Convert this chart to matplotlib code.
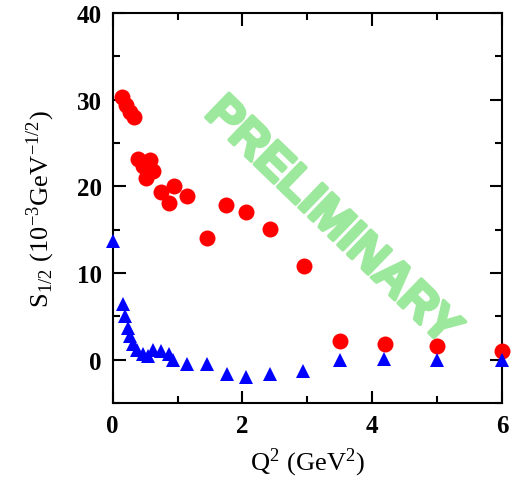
import matplotlib.pyplot as plt
import matplotlib.patheffects as pe
from matplotlib.ticker import MultipleLocator

plt.rcParams['font.family'] = ['Liberation Serif', 'DejaVu Serif']
plt.rcParams['mathtext.fontset'] = 'stix'

# red circles
q2_red = [0.15, 0.21, 0.27, 0.33, 0.39, 0.57, 0.47, 0.62, 0.52, 0.75, 0.94, 0.86,
          1.15, 1.45, 1.75, 2.05, 2.42, 2.95, 3.50, 4.19, 5.0, 6.0]
s_red = [30.3, 29.4, 28.6, 28.0, 23.2, 23.1, 22.3, 21.8, 21.0, 19.4, 20.0, 18.1,
         18.85, 14.0, 17.8, 17.1, 15.1, 10.8, 2.1, 1.75, 1.55, 0.95]

# blue triangles
q2_blue = [0.0, 0.16, 0.19, 0.24, 0.27, 0.32, 0.38, 0.47, 0.55, 0.62, 0.74, 0.86,
           0.93, 1.15, 1.45, 1.76, 2.05, 2.42, 2.94, 3.50, 4.18, 5.0, 6.0]
s_blue = [13.7, 6.4, 5.0, 3.7, 2.7, 1.85, 1.1, 0.6, 0.4, 1.15, 0.95, 0.6,
          0.0, -0.45, -0.45, -1.7, -2.0, -1.7, -1.35, -0.1, 0.1, 0.0, -0.1]

fig = plt.figure(figsize=(5.18, 4.89), dpi=100)
ax = fig.add_axes([0.2176, 0.174, 0.7514, 0.797])

ax.plot(q2_red, s_red, 'o', color='#ff0000', markersize=11.5, markeredgewidth=0,
        clip_on=False, zorder=3)
ax.plot(q2_blue, s_blue, '^', color='#0000ff', markersize=10.5, markeredgewidth=0,
        clip_on=False, zorder=3)

ax.text(0.563, 0.465, 'PRELIMINARY', transform=ax.transAxes, rotation=-44,
        rotation_mode='anchor', ha='center', va='center', fontsize=35,
        fontweight='bold', family=['Liberation Sans', 'DejaVu Sans'], color='#9ce89c',
        zorder=2, path_effects=[pe.withStroke(linewidth=2.5, foreground='#9ce89c')])

ax.set_xlim(0, 6)
ax.set_ylim(-5, 40)
ax.xaxis.set_major_locator(MultipleLocator(2))
ax.xaxis.set_minor_locator(MultipleLocator(1))
ax.yaxis.set_major_locator(MultipleLocator(10))
ax.yaxis.set_minor_locator(MultipleLocator(5))
ax.tick_params(which='both', direction='in', top=True, right=True, width=1.5,
               labelsize=18, pad=8)
ax.tick_params(which='major', length=9)
ax.tick_params(which='minor', length=5)
for lab in ax.get_xticklabels() + ax.get_yticklabels():
    lab.set_fontweight('bold')
for sp in ax.spines.values():
    sp.set_linewidth(1.5)

ax.set_xlabel(r'Q$^{\mathregular{2}}$ (GeV$^{\mathregular{2}}$)', fontsize=19, labelpad=6)
ax.set_ylabel(r'S$_{\mathregular{1/2}}$ (10$^{\mathregular{-3}}$GeV$^{\mathregular{-1/2}}$)',
              fontsize=19, labelpad=14)

fig.savefig('out.png', dpi=100)
